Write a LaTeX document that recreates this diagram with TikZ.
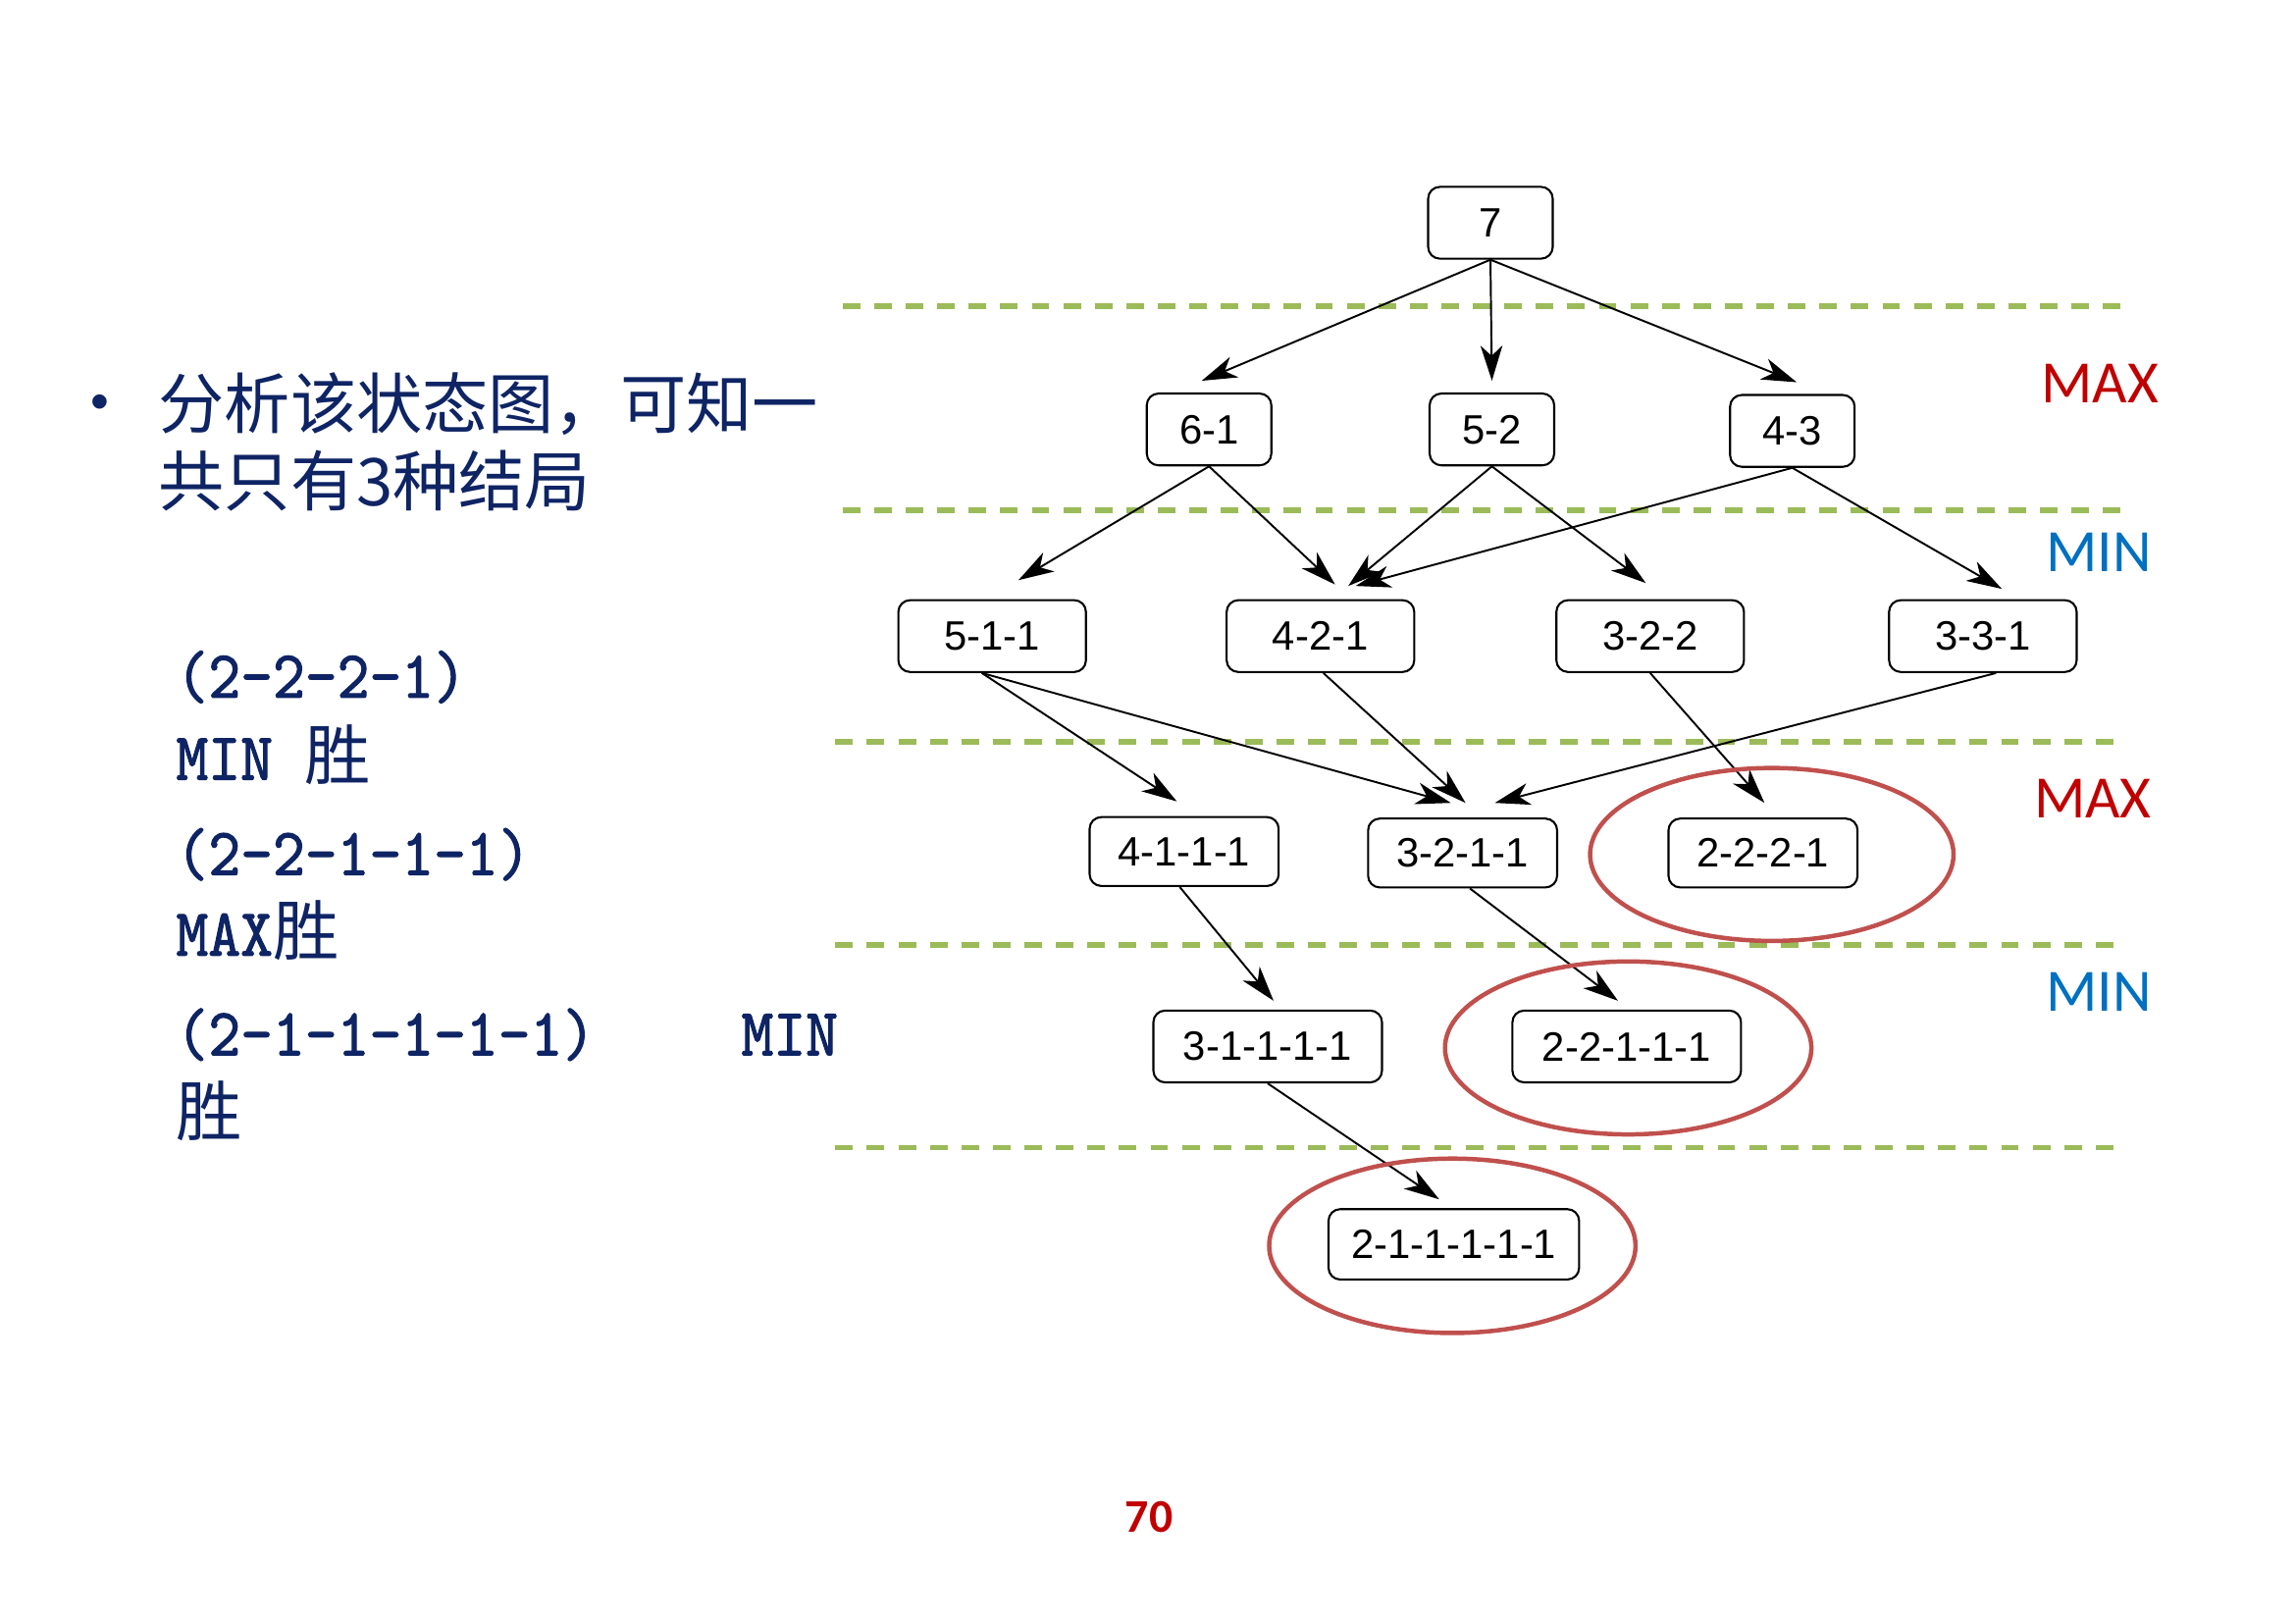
\documentclass[tikz,border=0pt]{standalone}
\usepackage{fontspec}
\usetikzlibrary{arrows.meta}
\setmainfont{Liberation Sans}
\newfontfamily\cjkfont{Noto Sans CJK SC}
\newfontfamily\listmono[FakeStretch=0.91,FakeBold=1.5]{lmmono10-regular.otf}
\newfontfamily\layerfont{Carlito}
\definecolor{navy}{RGB}{14,36,100}
\definecolor{layergreen}{RGB}{155,187,89}
\definecolor{maxred}{RGB}{192,0,0}
\definecolor{minblue}{RGB}{0,112,192}
\definecolor{ringred}{RGB}{192,80,77}
\tikzset{
	    state/.style = {draw, rounded corners=8pt, line width=1.4pt, minimum height=49pt,
	                    inner sep=0pt, font=\fontsize{28}{30}\selectfont},
	     move/.style = {draw, -{Stealth[length=24pt,width=15pt,inset=7pt]}, line width=1.3pt},
	    layer/.style = {layergreen, line width=4pt, dash pattern=on 12pt off 9.5pt},
	 maxlabel/.style = {maxred, font=\layerfont\fontsize{41}{45}\selectfont},
	 minlabel/.style = {minblue, font=\layerfont\fontsize{41}{45}\selectfont},
	  outcome/.style = {ringred, line width=3pt},
	 listline/.style = {navy, anchor=base west, inner sep=0pt, font=\listmono\fontsize{46}{52}\selectfont}
}
\begin{document}
\begin{tikzpicture}[x=1pt, y=-1pt]
		\useasboundingbox (0,0) rectangle (1566,1107.4);
		% layer separators
		\foreach \y/\xa/\xb in {209/575/1455, 348/575/1455, 506/570/1450, 645/570/1450, 783/570/1450}
			\draw[layer] (\xa,\y) -- (\xb,\y);
		% states
		\node[state, minimum width=85pt]  (s7)      at (1017,152) {7};
		\node[state, minimum width=85pt]  (s61)     at (825,293)  {6-1};
		\node[state, minimum width=85pt]  (s52)     at (1018,293) {5-2};
		\node[state, minimum width=85pt]  (s43)     at (1223,294) {4-3};
		\node[state, minimum width=128pt] (s511)    at (677,434)  {5-1-1};
		\node[state, minimum width=128pt] (s421)    at (901,434)  {4-2-1};
		\node[state, minimum width=128pt] (s322)    at (1126,434) {3-2-2};
		\node[state, minimum width=128pt] (s331)    at (1353,434) {3-3-1};
		\node[state, minimum width=129pt, minimum height=47pt] (s4111)   at (808,581)  {4-1-1-1};
		\node[state, minimum width=129pt, minimum height=47pt] (s3211)   at (998,582)  {3-2-1-1};
		\node[state, minimum width=129pt, minimum height=47pt] (s2221)   at (1203,582) {2-2-2-1};
		\node[state, minimum width=156pt] (s31111)  at (865,714)  {3-1-1-1-1};
		\node[state, minimum width=156pt] (s22111)  at (1110,714) {2-2-1-1-1};
		\node[state, minimum width=171pt, minimum height=48pt] (s211111) at (992,849)  {2-1-1-1-1-1};
		\path
			(s7.south)   edge[move] ([xshift=-5pt,yshift=8pt]s61.north)
			(s7.south)   edge[move] ([yshift=8pt]s52.north)
			(s7.south)   edge[move] ([xshift=3pt,yshift=8pt]s43.north)
			(s61.south)  edge[move] ([xshift=18pt,yshift=13pt]s511.north)
			(s61.south)  edge[move] ([xshift=10pt,yshift=10pt]s421.north)
			(s52.south)  edge[move] ([xshift=19pt,yshift=9pt]s421.north)
			(s43.south)  edge[move] ([xshift=24pt,yshift=9pt]s421.north)
			(s52.south)  edge[move] ([xshift=-3pt,yshift=11pt]s322.north)
			(s43.south)  edge[move] ([xshift=13pt,yshift=7pt]s331.north)
			([xshift=-7pt]s511.south) edge[move] ([xshift=-5pt,yshift=10pt]s4111.north)
			([xshift=-7pt]s511.south) edge[move] ([xshift=-8pt,yshift=10pt]s3211.north)
			([xshift=2pt]s421.south)  edge[move] ([xshift=2pt,yshift=10pt]s3211.north)
			([xshift=9pt]s331.south)  edge[move] ([xshift=22pt,yshift=10pt]s3211.north)
			(s322.south) edge[move] ([xshift=1pt,yshift=10pt]s2221.north)
			([xshift=-3pt]s4111.south) edge[move] ([xshift=4pt,yshift=6pt]s31111.north)
			([xshift=5pt]s3211.south)  edge[move] ([xshift=-6pt,yshift=6pt]s22111.north)
			(s31111.south) edge[move] ([xshift=-10pt,yshift=6pt]s211111.north);
		% final positions
		\draw[outcome] ([xshift=6pt,yshift=-1pt]s2221.center) ellipse [x radius=124pt, y radius=59pt];
		\draw[outcome] ([xshift=1pt,yshift=-1pt]s22111.center) ellipse [x radius=125pt, y radius=59pt];
		\draw[outcome] ([xshift=-1pt,yshift=-1pt]s211111.center) ellipse [x radius=125pt, y radius=59.5pt];
		% players
		\node[maxlabel] (max1) at (1433,262) {MAX};
		\node[minlabel] (min1) at (1432,377) {MIN};
		\node[maxlabel] (max2) at (1428,545) {MAX};
		\node[minlabel] (min2) at (1432,677) {MIN};
		% notes
		\node[navy, font=\fontsize{36}{40}\selectfont] (dot) at (68,278) {•};
		\node[navy, anchor=base west, inner sep=0pt, font=\cjkfont\fontsize{45}{53}\selectfont] (note1) at (108,292) {分析该状态图，可知一};
		\node[navy, anchor=base west, inner sep=0pt, font=\cjkfont\fontsize{45}{53}\selectfont] (note2) at (108,345) {共只有3种结局};
		\node[listline] (end1)  at (120,476) {(2-2-2-1)};
		\node[listline] (win1)  at (120,532) {MIN {\cjkfont\fontsize{45}{52}\selectfont 胜}};
		\node[listline] (end2)  at (120,597) {(2-2-1-1-1)};
		\node[listline] (win2)  at (120,652) {MAX{\cjkfont\fontsize{45}{52}\selectfont 胜}};
		\node[listline] (end3)  at (120,720) {(2-1-1-1-1-1)\hspace{100pt}MIN};
		\node[listline] (win3)  at (120,775) {{\cjkfont\fontsize{45}{52}\selectfont 胜}};
		\node[maxred, font=\layerfont\bfseries\fontsize{32}{36}\selectfont] (page) at (784,1035) {70};
	\end{tikzpicture}
\end{document}
